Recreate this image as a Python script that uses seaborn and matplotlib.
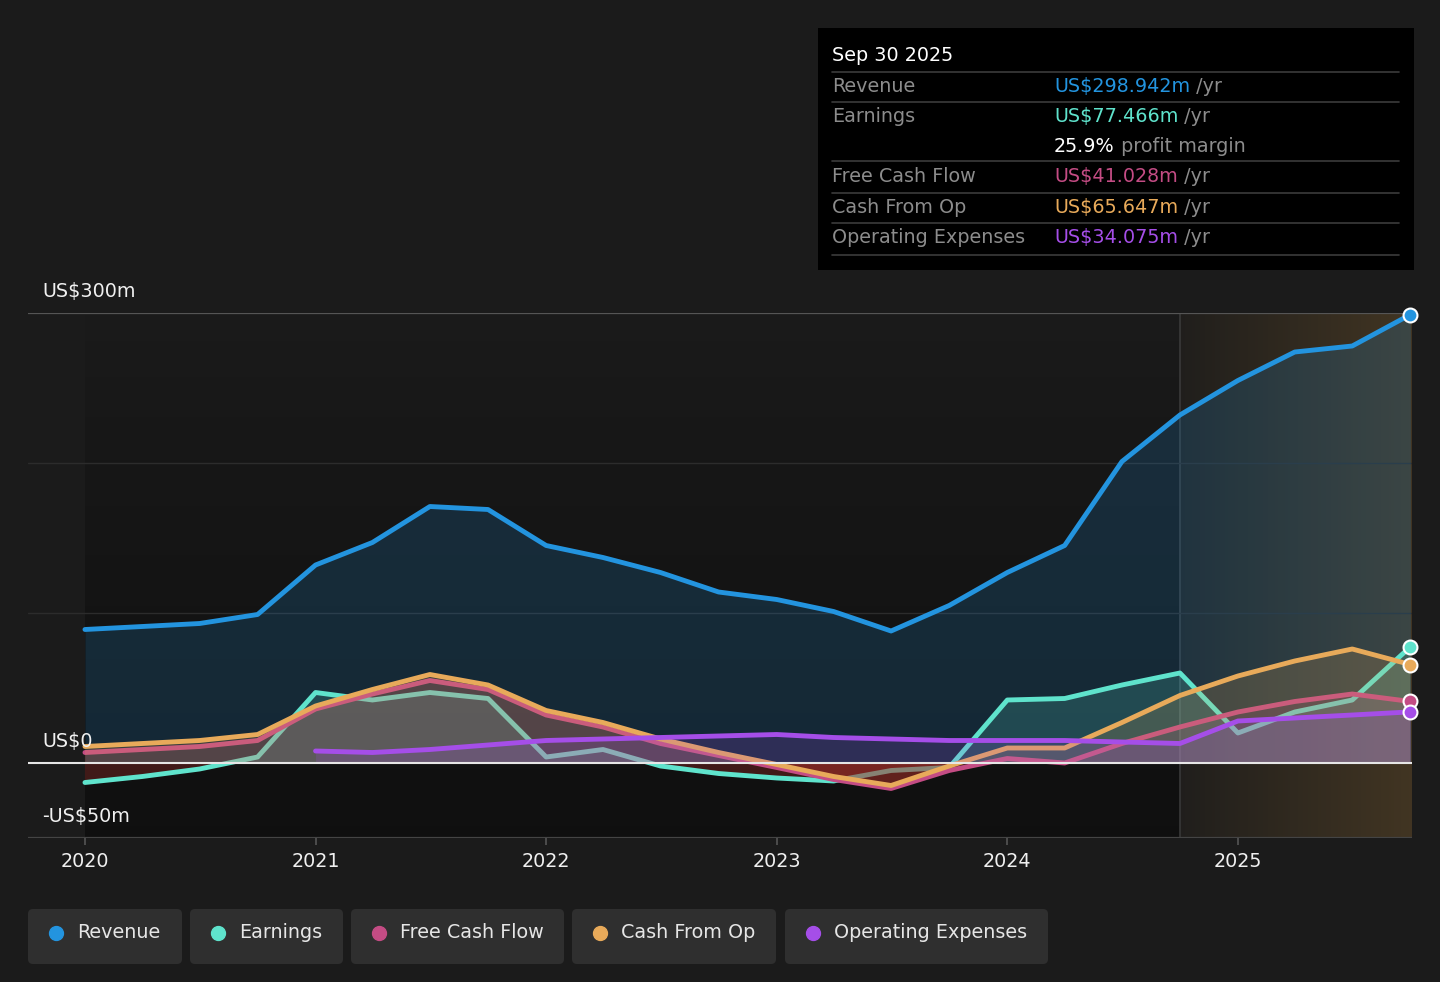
import numpy as np
import pandas as pd
import matplotlib
matplotlib.use('Agg')
import matplotlib.pyplot as plt
import seaborn as sns
from matplotlib.patches import FancyBboxPatch, Rectangle

# quarter ends (trailing twelve months values, US$ m)
dates = ['2019-12-31', '2020-03-31', '2020-06-30', '2020-09-30',
         '2020-12-31', '2021-03-31', '2021-06-30', '2021-09-30',
         '2021-12-31', '2022-03-31', '2022-06-30', '2022-09-30',
         '2022-12-31', '2023-03-31', '2023-06-30', '2023-09-30',
         '2023-12-31', '2024-03-31', '2024-06-30', '2024-09-30',
         '2024-12-31', '2025-03-31', '2025-06-30', '2025-09-30']
revenue = [89, 91, 93, 99, 132, 147, 171, 169, 145, 137, 127, 114,
           109, 101, 88, 105, 127, 145, 201, 232, 255, 274, 278, 298.942]
earnings = [-13, -9, -4, 4, 47, 42, 47, 43, 4, 9, -2, -7,
            -10, -12, -5, -3, 42, 43, 52, 60, 20, 34, 42, 77.466]
free_cash_flow = [7, 9, 11, 15, 36, 46, 55, 49, 32, 24, 13, 5,
                  -3, -11, -17, -5, 3, 0, 13, 24, 34, 41, 46, 41.028]
cash_from_op = [11, 13, 15, 19, 38, 49, 59, 52, 35, 27, 16, 7,
                -1, -9, -15, -2, 10, 10, 27, 45, 58, 68, 76, 65.647]
operating_expenses = [np.nan, np.nan, np.nan, np.nan, 8, 7, 9, 12, 15, 16, 17, 18,
                      19, 17, 16, 15, 15, 15, 14, 13, 28, 30, 32, 34.075]

series_names = ['Revenue', 'Earnings', 'Free Cash Flow', 'Cash From Op', 'Operating Expenses']
series_values = [revenue, earnings, free_cash_flow, cash_from_op, operating_expenses]
colors = ['#2394df', '#5fe3cc', '#c44c84', '#e8aa5a', '#a54ee8']

y_ticks = [300, 0, -50]
y_tick_labels = ['US$300m', 'US$0', '-US$50m']
x_years = [2020, 2021, 2022, 2023, 2024, 2025]

tooltip_date = 'Sep 30 2025'
tooltip_values = ['US$298.942m', 'US$77.466m', 'US$41.028m', 'US$65.647m', 'US$34.075m']
profit_margin = '25.9%'

dt = pd.to_datetime(dates)
xs = dt.year + dt.dayofyear / np.where(dt.is_leap_year, 366, 365)

sns.set_style('dark')
plt.rcParams['font.family'] = ['DejaVu Sans']

BG = '#1b1b1b'
W, H = 1440, 982
fig = plt.figure(figsize=(14.4, 9.82), dpi=100, facecolor=BG)
ax = fig.add_axes([28 / W, 1 - 838 / H, 1384 / W, 525 / H])
ax.set_facecolor(BG)
xmin, xmax = 2019.753, 2025.755
ax.set_xlim(xmin, xmax)
ax.set_ylim(-50, 300)

# darker gradient behind the past data, tan one for the last year
grad = np.linspace(0, 1, 256).reshape(-1, 1)
dark = np.zeros((256, 1, 4))
dark[..., :3] = 0.05
dark[..., 3] = 0.75 * (1 - grad) ** 0.8
ax.imshow(dark, extent=[2020, 2024.75, -50, 300], aspect='auto', origin='lower', zorder=0)
tan = np.zeros((1, 256, 4))
tan[..., 0], tan[..., 1], tan[..., 2] = 0.47, 0.35, 0.18
tan[..., 3] = np.linspace(0.06, 0.42, 256)
ax.imshow(tan, extent=[2024.75, xmax, -50, 300], aspect='auto', origin='lower', zorder=0)
ax.axvline(2024.75, color='#3a3a3a', lw=1.2, zorder=0.5)

for yv in [100, 200]:
    ax.axhline(yv, color='#2c2c2c', lw=1, zorder=0.6)
ax.axhline(300, color='#555555', lw=1.6, zorder=0.6)
ax.axhline(-50, color='#444444', lw=1.6, zorder=0.6)

for i, (name, vals, col) in enumerate(zip(series_names, series_values, colors)):
    df = pd.DataFrame({'x': xs, 'y': vals}).dropna()
    x = df['x'].to_numpy()
    y = df['y'].to_numpy()
    z = 1 + i
    ax.fill_between(x, y, 0, where=y >= 0, interpolate=True, color=col, alpha=0.18, lw=0, zorder=z)
    ax.fill_between(x, y, 0, where=y < 0, interpolate=True, color='#a8302a', alpha=0.32, lw=0, zorder=z)
    sns.lineplot(data=df, x='x', y='y', ax=ax, color=col, lw=3.5, zorder=z + 0.5,
                 solid_joinstyle='round', solid_capstyle='round')
    ax.plot(x[-1], y[-1], 'o', ms=10, mfc=col, mec='white', mew=1.5, zorder=10, clip_on=False)

ax.axhline(0, color='#e6e6e6', lw=1.5, zorder=7)

for yv, lab in zip(y_ticks, y_tick_labels):
    ax.annotate(lab, xy=(0, yv), xycoords=('axes fraction', 'data'), xytext=(10, 11.5),
                textcoords='offset points', color='#f0f0f0', fontsize=13.8, va='baseline', zorder=11)

ax.set_xticks(x_years)
ax.set_xticklabels([str(v) for v in x_years])
ax.set_yticks([])
ax.set_xlabel('')
ax.set_ylabel('')
ax.tick_params(axis='x', length=5, width=1.2, color='#555555', labelcolor='#f0f0f0',
               labelsize=13.8, pad=5, bottom=True)
ax.grid(False)
for s in ax.spines.values():
    s.set_visible(False)

# overlay in pixel coordinates for tooltip and legend
ov = fig.add_axes([0, 0, 1, 1], zorder=20)
ov.set_xlim(0, W)
ov.set_ylim(H, 0)
ov.axis('off')
ov.patch.set_alpha(0)

ov.add_patch(Rectangle((818, 28), 596, 242, color='black', lw=0))
ov.text(832, 55, tooltip_date, color='white', fontsize=13.8, va='center')
for yl in [72, 102, 161, 193, 223, 255]:
    ov.plot([832, 1399], [yl, yl], color='#3c3c3c', lw=1.2)
row_y = [86, 116, 176, 207, 237]
for name, val, col, ry in zip(series_names, tooltip_values, colors, row_y):
    ov.text(832, ry, name, color='#8c8c8c', fontsize=13.8, va='center')
    t = ov.text(1054, ry, val, color=col, fontsize=13.8, va='center')
    ov.annotate(' /yr', xy=(1, 0.5), xycoords=t, color='#8c8c8c', fontsize=13.8, va='center')
t = ov.text(1054, 146, profit_margin, color='white', fontsize=13.8, va='center')
ov.annotate(' profit margin', xy=(1, 0.5), xycoords=t, color='#8c8c8c', fontsize=13.8, va='center')

legend_boxes = [(28, 154), (190, 153), (351, 213), (572, 204), (785, 263)]
for (bx, bw), name, col in zip(legend_boxes, series_names, colors):
    ov.add_patch(FancyBboxPatch((bx, 909), bw, 55, boxstyle='round,pad=0,rounding_size=5',
                                fc='#2f2f2f', ec='none'))
    ov.plot(bx + 28, 933, 'o', ms=10, color=col)
    ov.text(bx + 49, 933, name, color='#e6e6e6', fontsize=13.8, va='center')

fig.savefig('out.png', dpi=100, facecolor=BG)
